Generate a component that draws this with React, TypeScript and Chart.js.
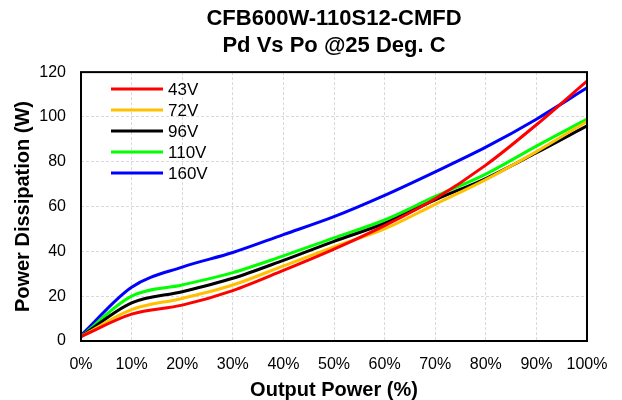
import React, { useEffect, useRef } from "react";
import { Chart, registerables } from "chart.js";

Chart.register(...registerables);

const outputPower = [0, 10, 20, 30, 40, 50, 60, 70, 80, 90, 100];
const v43 = [2, 12, 16, 22.5, 31.5, 41, 51.5, 63.5, 78.5, 96.5, 116];
const v72 = [2, 14, 19, 25, 33.5, 42, 50, 61, 72, 84.5, 98];
const v96 = [2, 17, 22, 28, 36, 44.5, 52.5, 63, 72.5, 84, 96];
const v110 = [2, 20, 25, 30.5, 38, 46, 54, 64.5, 74.5, 87, 99];
const v160 = [2.5, 24, 33, 39.5, 47.5, 55.5, 65, 75.5, 86.5, 99, 113];

const seriesLabels = ["43V", "72V", "96V", "110V", "160V"];
const seriesColors = ["#ff0000", "#ffc000", "#000000", "#00ff00", "#0000ff"];
const seriesValues = [v43, v72, v96, v110, v160];

const titleLines = ["CFB600W-110S12-CMFD", "Pd Vs Po @25 Deg. C"];
const xTitle = "Output Power (%)";
const yTitle = "Power Dissipation (W)";

const FONT = "'Liberation Sans', Arial, sans-serif";

const frameAndLegend = {
  id: "frameAndLegend",
  afterDatasetsDraw(chart: any) {
    const { ctx, chartArea } = chart;
    ctx.save();
    ctx.strokeStyle = "#000";
    ctx.lineWidth = 2;
    ctx.strokeRect(chartArea.left, chartArea.top, chartArea.right - chartArea.left, chartArea.bottom - chartArea.top);
    const x1 = chartArea.left + 30;
    const x2 = chartArea.left + 82;
    const tx = chartArea.left + 87;
    let y = chartArea.top + 17;
    ctx.font = `17px ${FONT}`;
    ctx.textBaseline = "middle";
    ctx.textAlign = "left";
    chart.data.datasets.forEach((ds: any) => {
      ctx.strokeStyle = ds.borderColor;
      ctx.lineWidth = 3;
      ctx.beginPath();
      ctx.moveTo(x1, y);
      ctx.lineTo(x2, y);
      ctx.stroke();
      ctx.fillStyle = "#000";
      ctx.fillText(ds.label, tx, y + 1);
      y += 21;
    });
    ctx.restore();
  },
};

export default function App() {
  const ref = useRef<HTMLCanvasElement | null>(null);
  useEffect(() => {
    if (!ref.current) return;
    const chart = new Chart(ref.current, {
      type: "line",
      data: {
        datasets: seriesLabels.map((label, i) => ({
          label,
          data: outputPower.map((x, j) => ({ x, y: seriesValues[i][j] })),
          borderColor: seriesColors[i],
          backgroundColor: seriesColors[i],
          borderWidth: 3,
          pointRadius: 0,
          tension: 0.4,
          cubicInterpolationMode: "monotone" as const,
          fill: false,
        })),
      },
      options: {
        responsive: false,
        animation: false,
        layout: { padding: { left: 0, right: 35, top: 0, bottom: 0 } },
        plugins: {
          legend: { display: false },
          tooltip: { enabled: false },
          title: {
            display: true,
            text: titleLines,
            fullSize: false,
            color: "#000",
            font: { family: FONT, size: 22, weight: "bold", lineHeight: 1.23 },
            padding: { top: 5, bottom: 13 },
          },
        },
        scales: {
          x: {
            type: "linear",
            min: 0,
            max: 100,
            ticks: {
              stepSize: 10,
              color: "#000",
              font: { family: FONT, size: 16 },
              padding: 14,
              maxRotation: 0,
              callback: (v: any) => `${v}%`,
            },
            grid: { color: "#d9d9d9", drawTicks: false, lineWidth: 1 },
            border: { display: false, dash: [3, 2] },
            title: {
              display: true,
              text: xTitle,
              color: "#000",
              font: { family: FONT, size: 20, weight: "bold", lineHeight: 1 },
              padding: { top: 1, bottom: 0 },
            },
            afterFit: (s: any) => {
              s.height = 59;
            },
          },
          y: {
            min: 0,
            max: 120,
            ticks: {
              stepSize: 20,
              color: "#000",
              font: { family: FONT, size: 16 },
              padding: 15,
            },
            grid: { color: "#d9d9d9", drawTicks: false, lineWidth: 1 },
            border: { display: false, dash: [3, 2] },
            title: {
              display: true,
              text: yTitle,
              color: "#000",
              font: { family: FONT, size: 20, weight: "bold" },
              padding: { top: 11, bottom: 0 },
            },
            afterFit: (s: any) => {
              s.width = 81;
            },
          },
        },
      },
      plugins: [frameAndLegend],
    });
    return () => chart.destroy();
  }, []);
  return (
    <div style={{ position: "fixed", left: 0, top: 0, width: 622, height: 400, background: "#fff" }}>
      <canvas ref={ref} width={622} height={400} />
    </div>
  );
}
